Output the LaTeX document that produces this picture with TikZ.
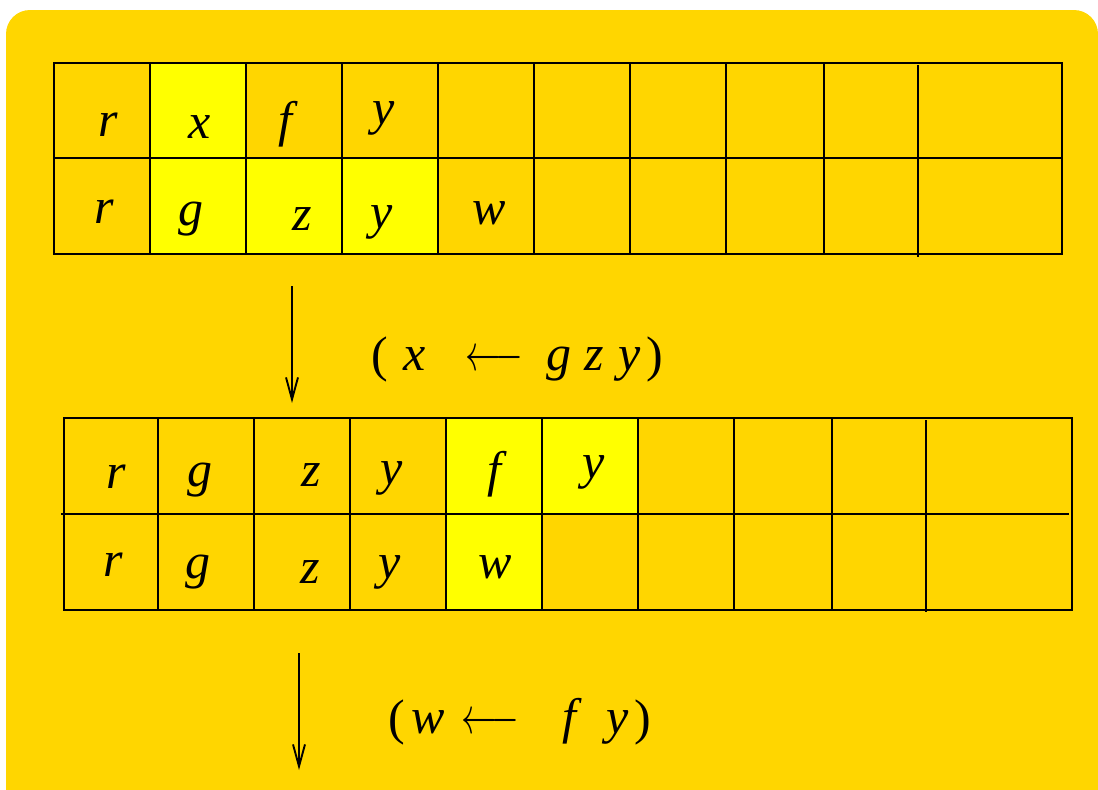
\documentclass[tikz,border=0pt]{standalone}
\usepackage{fontspec}
\setmainfont{Liberation Serif}
\usetikzlibrary{arrows.meta}
\definecolor{gold}{RGB}{255,214,0}
\definecolor{hilite}{RGB}{255,255,0}

\tikzset{
  sym/.style={inner sep=0pt, anchor=base, font=\fontsize{50}{52}\selectfont\itshape},
  brk/.style={inner sep=0pt, anchor=base, font=\fontsize{50}{52}\selectfont},
  larr/.style={inner sep=0pt, anchor=base, font=\normalsize},
  gridline/.style={line width=2.6pt},
  down/.style={line width=1.9pt, -{Straight Barb[length=22pt,width=12pt,line width=1.9pt]}},
}

\begin{document}
\begin{tikzpicture}[x=1pt,y=-1pt]
\useasboundingbox (0,0) rectangle (1098,790);
\fill[gold, rounded corners=24pt] (6,10) rectangle (1098,830);
% first table
\fill[hilite] (150,63) rectangle (246,158);
\fill[hilite] (150,158) rectangle (438,254);
\draw[gridline] (54,63) rectangle (1062,254);
\draw[gridline] (54,158) -- (1062,158);
\foreach \x in {150,246,342,438,534,630,726,824}
  \draw[gridline] (\x,63) -- (\x,254);
\draw[gridline] (918,65) -- (918,257);
\node[sym] (ra) at (108,136) {r};
\node[sym] (xa) at (200,138) {x};
\node[sym] (fa) at (285,136) {f};
\node[sym] (ya) at (384,124) {y};
\node[sym] (rb) at (104,223) {r};
\node[sym] (gb) at (191,225) {g};
\node[sym] (zb) at (302,230) {z};
\node[sym] (yb) at (382,228) {y};
\node[sym] (wb) at (489,224) {w};
% first step
\coordinate (s1) at (292,286);
\coordinate (e1) at (292,403);
\draw[down] (s1) -- (e1);
\node[brk] (lp1) at (380,371) {(};
\node[sym] (t1x) at (415,370) {x};
\node[larr] (arr1) at (494,370) {\scalebox{3.55}[5.2]{$\longleftarrow$}};
\node[sym] (t1g) at (559,370) {g};
\node[sym] (t1z) at (594,370) {z};
\node[sym] (t1y) at (630,370) {y};
\node[brk] (rp1) at (655,371) {)};
% second table
\fill[hilite] (446,418) rectangle (638,514);
\fill[hilite] (446,514) rectangle (542,610);
\draw[gridline] (64,418) rectangle (1072,610);
\draw[gridline] (61,514) -- (1069,514);
\foreach \x in {158,254,350,446,542,638,734,832}
  \draw[gridline] (\x,418) -- (\x,610);
\draw[gridline] (926,420) -- (926,612);
\node[sym] (rc) at (116,488) {r};
\node[sym] (gc) at (200,486) {g};
\node[sym] (zc) at (311,486) {z};
\node[sym] (yc) at (392,484) {y};
\node[sym] (fc) at (494,486) {f};
\node[sym] (yd) at (594,478) {y};
\node[sym] (re) at (113,576) {r};
\node[sym] (ge) at (198,578) {g};
\node[sym] (ze) at (310,583) {z};
\node[sym] (ye) at (390,578) {y};
\node[sym] (we) at (495,578) {w};
% second step
\coordinate (s2) at (299,653);
\coordinate (e2) at (299,770);
\draw[down] (s2) -- (e2);
\node[brk] (lp2) at (397,734) {(};
\node[sym] (t2w) at (428,733) {w};
\node[larr] (arr2) at (490,733) {\scalebox{3.55}[5.2]{$\longleftarrow$}};
\node[sym] (t2f) at (569,733) {f};
\node[sym] (t2y) at (618,733) {y};
\node[brk] (rp2) at (643,734) {)};
\end{tikzpicture}
\end{document}
